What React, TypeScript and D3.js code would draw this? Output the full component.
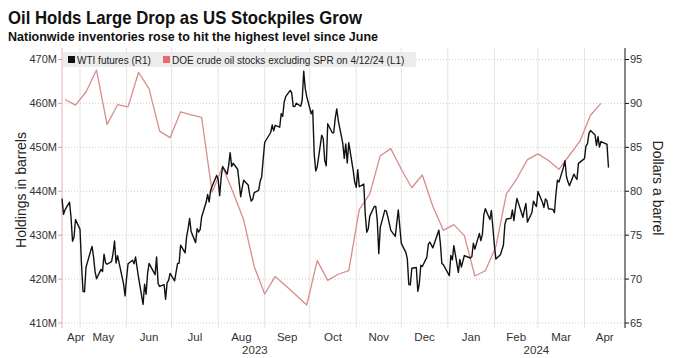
import React from "react";
import * as d3 from "d3";

const wtiDates = [
  "2023-04-19","2023-04-20","2023-04-21","2023-04-24","2023-04-25","2023-04-26","2023-04-27","2023-04-28",
  "2023-05-01","2023-05-02","2023-05-03","2023-05-04","2023-05-05","2023-05-08","2023-05-09","2023-05-10","2023-05-11","2023-05-12",
  "2023-05-15","2023-05-16","2023-05-17","2023-05-18","2023-05-19","2023-05-22","2023-05-23","2023-05-24","2023-05-25","2023-05-26",
  "2023-05-30","2023-05-31","2023-06-01","2023-06-02","2023-06-05","2023-06-06","2023-06-07","2023-06-08","2023-06-09",
  "2023-06-12","2023-06-13","2023-06-14","2023-06-15","2023-06-16","2023-06-20","2023-06-21","2023-06-22","2023-06-23",
  "2023-06-26","2023-06-27","2023-06-28","2023-06-29","2023-06-30","2023-07-03","2023-07-05","2023-07-06","2023-07-07",
  "2023-07-10","2023-07-11","2023-07-12","2023-07-13","2023-07-14","2023-07-17","2023-07-18","2023-07-19","2023-07-20","2023-07-21",
  "2023-07-24","2023-07-25","2023-07-26","2023-07-27","2023-07-28","2023-07-31","2023-08-01","2023-08-02","2023-08-03","2023-08-04",
  "2023-08-07","2023-08-08","2023-08-09","2023-08-10","2023-08-11","2023-08-14","2023-08-15","2023-08-16","2023-08-17","2023-08-18",
  "2023-08-21","2023-08-22","2023-08-23","2023-08-24","2023-08-25","2023-08-28","2023-08-29","2023-08-30","2023-08-31","2023-09-01",
  "2023-09-05","2023-09-06","2023-09-07","2023-09-08","2023-09-11","2023-09-12","2023-09-13","2023-09-14","2023-09-15",
  "2023-09-18","2023-09-19","2023-09-20","2023-09-21","2023-09-22","2023-09-25","2023-09-26","2023-09-27","2023-09-28","2023-09-29",
  "2023-10-02","2023-10-03","2023-10-04","2023-10-05","2023-10-06","2023-10-09","2023-10-10","2023-10-11","2023-10-12","2023-10-13",
  "2023-10-16","2023-10-17","2023-10-18","2023-10-19","2023-10-20","2023-10-23","2023-10-24","2023-10-25","2023-10-26","2023-10-27",
  "2023-10-30","2023-10-31","2023-11-01","2023-11-02","2023-11-03","2023-11-06","2023-11-07","2023-11-08","2023-11-09","2023-11-10",
  "2023-11-13","2023-11-14","2023-11-15","2023-11-16","2023-11-17","2023-11-20","2023-11-21","2023-11-22","2023-11-24",
  "2023-11-27","2023-11-28","2023-11-29","2023-11-30","2023-12-01","2023-12-04","2023-12-05","2023-12-06","2023-12-07","2023-12-08",
  "2023-12-11","2023-12-12","2023-12-13","2023-12-14","2023-12-15","2023-12-18","2023-12-19","2023-12-20","2023-12-21","2023-12-22",
  "2023-12-26","2023-12-27","2023-12-28","2023-12-29","2024-01-02","2024-01-03","2024-01-04","2024-01-05",
  "2024-01-08","2024-01-09","2024-01-10","2024-01-11","2024-01-12","2024-01-16","2024-01-17","2024-01-18","2024-01-19",
  "2024-01-22","2024-01-23","2024-01-24","2024-01-25","2024-01-26","2024-01-29","2024-01-30","2024-01-31","2024-02-01","2024-02-02",
  "2024-02-05","2024-02-06","2024-02-07","2024-02-08","2024-02-09","2024-02-12","2024-02-13","2024-02-14","2024-02-15","2024-02-16",
  "2024-02-20","2024-02-21","2024-02-22","2024-02-23","2024-02-26","2024-02-27","2024-02-28","2024-02-29","2024-03-01",
  "2024-03-04","2024-03-05","2024-03-06","2024-03-07","2024-03-08","2024-03-11","2024-03-12","2024-03-13","2024-03-14","2024-03-15",
  "2024-03-18","2024-03-19","2024-03-20","2024-03-21","2024-03-22","2024-03-25","2024-03-26","2024-03-27","2024-03-28",
  "2024-04-01","2024-04-02","2024-04-03","2024-04-04","2024-04-05","2024-04-08","2024-04-09","2024-04-10","2024-04-11","2024-04-12",
  "2024-04-15","2024-04-16","2024-04-17"
];

const wtiValues = [
  79.16,77.37,77.87,78.76,77.07,74.30,74.76,76.78,
  75.66,71.66,68.60,68.56,71.34,73.16,73.71,72.56,70.87,70.04,
  71.11,70.86,72.83,71.86,71.69,71.99,72.91,74.34,71.83,72.67,
  69.46,68.09,70.10,71.74,72.15,71.74,72.53,71.29,70.17,
  67.12,69.42,68.27,70.62,71.78,70.50,72.53,69.51,69.16,
  69.37,67.70,69.56,69.86,70.64,69.79,71.79,71.80,73.86,
  72.99,74.83,75.75,76.89,75.42,74.15,75.75,75.35,75.63,77.07,
  78.74,79.63,78.78,80.09,80.58,81.80,81.37,79.49,81.55,82.82,
  81.94,82.92,84.40,82.82,83.19,82.51,80.99,79.38,80.39,81.25,
  80.72,79.64,78.89,79.05,79.83,80.10,81.16,81.63,83.63,85.55,
  86.69,87.54,86.87,87.51,87.29,88.84,88.52,90.16,90.77,
  91.48,91.20,89.66,89.63,90.03,89.68,90.39,93.68,91.71,90.79,
  88.82,89.23,84.22,82.31,82.79,86.38,85.97,83.49,82.91,87.69,
  86.66,86.66,88.32,89.37,88.08,85.49,83.74,85.39,83.21,85.54,
  82.31,81.02,80.44,82.46,80.51,80.82,77.37,75.33,75.74,77.17,
  78.26,78.26,76.66,72.90,75.89,77.83,77.77,77.10,75.54,
  74.86,76.41,77.86,75.96,74.07,73.04,72.32,69.38,69.34,71.23,
  71.32,68.61,69.47,71.58,71.43,72.47,73.94,74.22,73.89,73.56,
  75.57,74.11,71.77,71.65,70.38,72.70,72.19,73.81,
  70.77,72.24,71.37,72.02,72.68,72.40,72.56,74.08,73.41,
  75.19,74.37,75.09,77.36,78.01,76.78,77.82,75.85,73.82,72.28,
  72.78,73.31,73.86,76.22,76.84,76.92,77.87,76.64,78.03,79.19,
  77.04,77.91,78.61,76.49,77.58,78.87,78.54,78.26,79.97,
  78.74,78.15,79.13,78.93,78.01,77.93,77.56,79.72,81.26,81.04,
  82.72,83.47,81.68,81.07,80.63,81.95,81.62,81.35,83.17,
  83.71,85.15,85.43,86.59,86.91,86.43,85.23,86.21,85.02,85.66,
  85.41,85.36,82.69
];

const doeDates = [
  "2023-04-21","2023-04-28","2023-05-05","2023-05-12","2023-05-19","2023-05-26","2023-06-02","2023-06-09",
  "2023-06-16","2023-06-23","2023-06-30","2023-07-07","2023-07-14","2023-07-21","2023-07-28","2023-08-04",
  "2023-08-11","2023-08-18","2023-08-25","2023-09-01","2023-09-08","2023-09-15","2023-09-22","2023-09-29",
  "2023-10-06","2023-10-13","2023-10-20","2023-10-27","2023-11-03","2023-11-10","2023-11-17","2023-11-24",
  "2023-12-01","2023-12-08","2023-12-15","2023-12-22","2023-12-29","2024-01-05","2024-01-12","2024-01-19",
  "2024-01-26","2024-02-02","2024-02-09","2024-02-16","2024-02-23","2024-03-01","2024-03-08","2024-03-15",
  "2024-03-22","2024-03-29","2024-04-05","2024-04-12"
];

const doeValues = [
  460.9,459.6,462.6,467.6,455.2,459.7,459.2,467.1,
  463.3,453.7,452.2,458.1,457.4,456.8,439.8,445.6,
  439.7,433.5,422.9,416.6,420.6,418.5,416.3,414.1,
  424.2,419.7,421.1,421.9,435.8,439.4,448.1,449.7,
  445.0,440.8,443.7,436.6,431.1,432.4,429.9,420.7,
  421.9,427.4,439.4,442.9,447.2,448.5,447.0,445.0,
  448.2,451.4,457.3,460.0
];

const leftTicks = [410, 420, 430, 440, 450, 460, 470];
const rightTicks = [65, 70, 75, 80, 85, 90, 95];
const monthStarts = [
  "2023-04-01","2023-05-01","2023-06-01","2023-07-01","2023-08-01","2023-09-01","2023-10-01",
  "2023-11-01","2023-12-01","2024-01-01","2024-02-01","2024-03-01","2024-04-01","2024-05-01"
];
const monthNames = ["Apr","May","Jun","Jul","Aug","Sep","Oct","Nov","Dec","Jan","Feb","Mar","Apr"];
const yearStarts = ["2023-01-01", "2024-01-01", "2025-01-01"];
const yearNames = ["2023", "2024"];
const domainDates = ["2023-04-19", "2024-04-28"];

const parse = d3.timeParse("%Y-%m-%d");

const W = 677;
const H = 358;
const L = 62;
const R = 625;
const TOP = 48;
const BOT = 328;

const FONT = "'Liberation Sans', Arial, sans-serif";

export default function App() {
  const d0 = parse(domainDates[0])!;
  const d1 = parse(domainDates[1])!;
  const x = d3.scaleTime().domain([d0, d1]).range([L, R]);
  const yR = d3.scaleLinear().domain([65, 95]).range([323, 59.5]);
  const yL = d3.scaleLinear().domain([410, 470]).range([323, 59.5]);

  const wti = wtiDates.map((d, i) => ({ d: parse(d)!, v: wtiValues[i] }));
  const doe = doeDates.map((d, i) => ({ d: parse(d)!, v: doeValues[i] }));

  const wtiLine = d3.line<{ d: Date; v: number }>().x((p) => x(p.d)).y((p) => yR(p.v));
  const doeLine = d3.line<{ d: Date; v: number }>().x((p) => x(p.d)).y((p) => yL(p.v));

  const months = monthNames.map((name, i) => {
    const s = parse(monthStarts[i])!;
    const e = parse(monthStarts[i + 1])!;
    const a = x(s < d0 ? d0 : s);
    const b = x(e > d1 ? d1 : e);
    return { name, s, a, b };
  });
  const grid = months.map((m) => m.s).filter((s) => s > d0 && s < d1);

  const years = yearNames.map((name, i) => {
    const s = parse(yearStarts[i])!;
    const e = parse(yearStarts[i + 1])!;
    const a = x(s < d0 ? d0 : s);
    const b = x(e > d1 ? d1 : e);
    return { name, mid: (a + b) / 2 };
  });

  return (
    <svg width={W} height={H} style={{ position: "absolute", left: 0, top: 0, background: "#fff" }}>
      <rect x={0} y={0} width={W} height={H} fill="#fff" />
      <text x={8} y={24} fontFamily={FONT} fontWeight="bold" fontSize={18.5} fill="#111"
        textLength={354} lengthAdjust="spacingAndGlyphs">Oil Holds Large Drop as US Stockpiles Grow</text>
      <text x={8} y={40.5} fontFamily={FONT} fontWeight="bold" fontSize={13.5} fill="#111"
        textLength={370} lengthAdjust="spacingAndGlyphs">Nationwide inventories rose to hit the highest level since June</text>

      {/* vertical grid */}
      {grid.map((g, i) => (
        <line key={"vg" + i} x1={x(g)} x2={x(g)} y1={TOP} y2={BOT} stroke="#e3e3e3" strokeWidth={1} />
      ))}
      {/* horizontal grid */}
      {rightTicks.map((t, i) => (
        <line key={"hg" + i} x1={L} x2={R} y1={yR(t)} y2={yR(t)} stroke="#c4c4c4" strokeWidth={0.8} strokeDasharray="1,2" />
      ))}

      {/* left axis */}
      <line x1={L} x2={L} y1={TOP} y2={BOT} stroke="#e8b4b4" strokeWidth={1} />
      {leftTicks.map((t, i) => (
        <g key={"lt" + i}>
          <line x1={L - 4} x2={L} y1={yL(t)} y2={yL(t)} stroke="#e0a0a0" strokeWidth={1} />
          <text x={L - 5} y={yL(t)} dy="0.35em" textAnchor="end" fontFamily={FONT} fontSize={11} fill="#333">{t}M</text>
        </g>
      ))}
      {/* right axis */}
      <line x1={R} x2={R} y1={TOP} y2={BOT} stroke="#111" strokeWidth={1} />
      {rightTicks.map((t, i) => (
        <g key={"rt" + i}>
          <line x1={R} x2={R + 4} y1={yR(t)} y2={yR(t)} stroke="#111" strokeWidth={1} />
          <text x={R + 5} y={yR(t)} dy="0.35em" textAnchor="start" fontFamily={FONT} fontSize={11} fill="#333">{t}</text>
        </g>
      ))}

      {/* x labels */}
      {months.map((m, i) => {
        const narrow = m.b - m.a < 30;
        return (
          <text key={"ml" + i} x={narrow ? m.a + 5 : (m.a + m.b) / 2} y={341}
            textAnchor={narrow ? "start" : "middle"} fontFamily={FONT} fontSize={11.5} fill="#333">{m.name}</text>
        );
      })}
      {years.map((yv, i) => (
        <text key={"yl" + i} x={yv.mid} y={354} textAnchor="middle" fontFamily={FONT} fontSize={11.5} fill="#333">{yv.name}</text>
      ))}

      {/* axis titles */}
      <text transform={`translate(26,${(TOP + BOT) / 2 + 2}) rotate(-90)`} textAnchor="middle" fontFamily={FONT} fontSize={14} fill="#222">Holdings in barrels</text>
      <text transform={`translate(653,${(TOP + BOT) / 2}) rotate(90)`} textAnchor="middle" fontFamily={FONT} fontSize={14} fill="#222">Dollars a barrel</text>

      {/* series */}
      <path d={doeLine(doe) || ""} fill="none" stroke="#d98c8c" strokeWidth={1.3} strokeLinejoin="round" />
      <path d={wtiLine(wti) || ""} fill="none" stroke="#111" strokeWidth={1.4} strokeLinejoin="round" />

      {/* legend */}
      <rect x={63} y={52} width={353} height={15} fill="#ececec" />
      <rect x={68} y={56} width={7} height={7} fill="#111" />
      <text x={77} y={63.5} fontFamily={FONT} fontSize={10} fill="#222">WTI futures (R1)</text>
      <rect x={163} y={56} width={7} height={7} fill="#e86a6a" />
      <text x={172} y={63.5} fontFamily={FONT} fontSize={10} fill="#222">DOE crude oil stocks excluding SPR on 4/12/24 (L1)</text>
    </svg>
  );
}
